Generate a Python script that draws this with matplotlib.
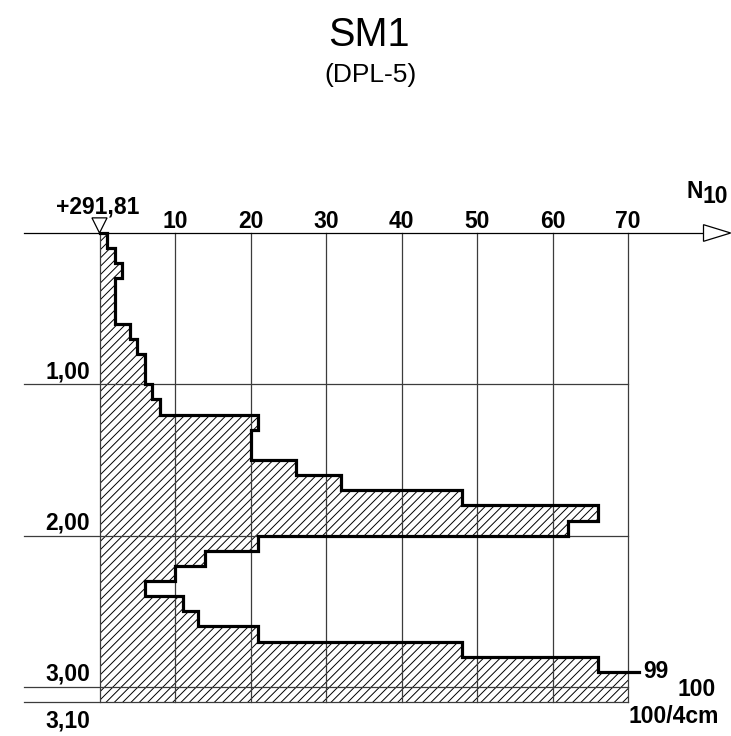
import numpy as np
import matplotlib.pyplot as plt
from matplotlib.patches import Polygon

plt.rcParams['font.family'] = ['Liberation Sans', 'DejaVu Sans']
plt.rcParams['hatch.linewidth'] = 0.7

######## DATA - DPL-5 blows per 10 cm
depth_top = [0.0, 0.1, 0.2, 0.3, 0.4, 0.5, 0.6, 0.7, 0.8, 0.9,
             1.0, 1.1, 1.2, 1.3, 1.4, 1.5, 1.6, 1.7, 1.8, 1.9,
             2.0, 2.1, 2.2, 2.3, 2.4, 2.5, 2.6, 2.7, 2.8, 2.9, 3.0]
n10 = [1, 2, 3, 2, 2, 2, 4, 5, 6, 6,
       7, 8, 21, 20, 20, 26, 32, 48, 66, 62,
       21, 14, 10, 6, 11, 13, 21, 48, 66, 99, 100]
grid_n = [10, 20, 30, 40, 50, 60, 70]
depth_marks = [1.00, 2.00, 3.00, 3.10]
depth_labels = ["1,00", "2,00", "3,00", "3,10"]
elev_label = "+291,81"
title = "SM1"
subtitle = "(DPL-5)"
n_max = 70
step = 0.1

######## LAYOUT (pixels -> data)
W, H = 731, 736
x0_px, sx = 99.5, 7.55      # px of N=0, px per blow
y0_px, sy = 233.0, 151.33   # px of depth 0, px per metre

fig = plt.figure(figsize=(W / 100, H / 100), dpi=100)
ax = fig.add_axes([0, 0, 1, 1])
ax.set_xlim(-x0_px / sx, (W - x0_px) / sx)
ax.set_ylim((H - y0_px) / sy, -y0_px / sy)
ax.axis('off')

bottom = depth_top[-1] + step
gcol = '#3c3c3c'

# hatched area
n_clip = np.minimum(np.array(n10, dtype=float), n_max)
y_edges = np.append(depth_top, bottom)
x_edges = np.append(n_clip, n_clip[-1])
ax.fill_betweenx(y_edges, 0, x_edges, step='post', facecolor='white',
                 edgecolor='black', hatch='////', linewidth=0, zorder=1)

# grid
for g in grid_n:
    ax.plot([g, g], [0, bottom], color=gcol, lw=0.9, zorder=2)
ax.plot([0, 0], [0, bottom], color=gcol, lw=0.9, zorder=2)
for d in depth_marks:
    ax.plot([-10, n_max], [d, d], color=gcol, lw=0.9, zorder=2)

# N axis with open arrow
ax.plot([-10, 80.0], [0, 0], color='black', lw=0.9, zorder=3)
ax.add_patch(Polygon([(80.0, -0.055), (80.0, 0.055), (83.6, 0)], closed=True,
                     facecolor='white', edgecolor='black', lw=0.9, zorder=3))
# elevation marker
ax.add_patch(Polygon([(-1.0, -0.1), (1.0, -0.1), (0, 0)], closed=True,
                     facecolor='white', edgecolor='black', lw=0.9, zorder=3))

# thick outline of the profile
last = next(i for i, v in enumerate(n10) if v > n_max)
xs, ys = [0], [0]
for i in range(last):
    xs += [n10[i], n10[i]]
    ys += [depth_top[i], depth_top[i] + step]
xs.append(n_max + 1.4)
ys.append(depth_top[last])
ax.plot(xs, ys, color='black', lw=2.3, solid_joinstyle='miter', zorder=4)

# texts
fs = 16.5
for g in grid_n:
    ax.text(g, -0.033, str(g), ha='center', va='baseline', fontsize=fs, fontweight='bold')
ax.text(-0.2, -0.132, elev_label, ha='center', va='baseline', fontsize=fs, fontweight='bold')
ax.text(77.8, -0.231, "N", ha='left', va='baseline', fontsize=fs, fontweight='bold')
ax.text(79.9, -0.198, "10", ha='left', va='baseline', fontsize=fs, fontweight='bold')
for d, lab in zip(depth_marks, depth_labels):
    yb = d - 0.04 if d < bottom - 0.01 else d + 0.17
    ax.text(-1.26, yb, lab, ha='right', va='baseline', fontsize=fs, fontweight='bold')
ax.text(72.0, depth_top[last], str(n10[last]), ha='left', va='center', fontsize=fs, fontweight='bold')
ax.text(76.5, 3.06, str(n10[-1]), ha='left', va='baseline', fontsize=fs, fontweight='bold')
ax.text(70.1, 3.238, "100/4cm", ha='left', va='baseline', fontsize=fs, fontweight='bold')

fig.text(369 / W, 1 - 46 / H, title, ha='center', va='baseline', fontsize=28.5)
fig.text(370 / W, 1 - 82 / H, subtitle, ha='center', va='baseline', fontsize=19)

fig.savefig("out.png", dpi=100)
